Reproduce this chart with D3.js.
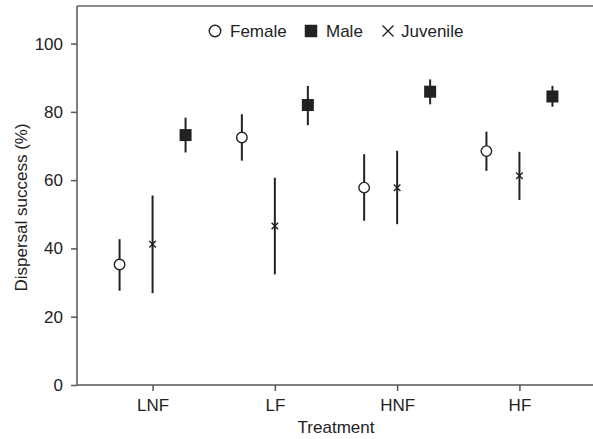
<!DOCTYPE html>
<html>
<head>
<meta charset="utf-8">
<script src="https://cdn.jsdelivr.net/npm/d3@7"></script>
<style>
  body { margin: 0; background: #fff; }
  svg text { font-family: "Liberation Sans", Arial, sans-serif; fill: #222; }
</style>
</head>
<body>
<div id="chart"></div>
<script>
// Data
const treatments = ["LNF", "LF", "HNF", "HF"];
const groups = ["Female", "Juvenile", "Male"];
const femaleMean = [35.3, 72.5, 57.8, 68.5];
const femaleLow = [27.6, 65.7, 48.1, 62.7];
const femaleHigh = [42.7, 79.3, 67.6, 74.2];
const juvenileMean = [41.2, 46.6, 57.8, 61.3];
const juvenileLow = [26.9, 32.4, 47.1, 54.2];
const juvenileHigh = [55.5, 60.7, 68.6, 68.3];
const maleMean = [73.2, 82.0, 85.9, 84.5];
const maleLow = [68.1, 76.1, 82.2, 81.5];
const maleHigh = [78.3, 87.6, 89.5, 87.6];
const yTicks = [0, 20, 40, 60, 80, 100];

const W = 593, H = 439;
const MARGIN = { LEFT: 77, RIGHT: -2, TOP: 6, BOTTOM: 54 };
const innerW = W - MARGIN.LEFT - MARGIN.RIGHT;
const innerH = H - MARGIN.TOP - MARGIN.BOTTOM;
const AXIS_COLOR = "#555";
const MARK_COLOR = "#222";
const FONT = "17px";

const svg = d3.select("#chart").append("svg").attr("width", W).attr("height", H);
const g = svg.append("g").attr("transform", `translate(${MARGIN.LEFT},${MARGIN.TOP})`);

const x = d3.scalePoint().domain(treatments).range([0, innerW]).padding(0.618);
const offset = d3.scalePoint().domain(groups).range([-33, 33]);
const y = d3.scaleLinear().domain([0, 111]).range([innerH, 0]);

// top frame line
g.append("line").attr("x1", 0).attr("x2", innerW).attr("y1", 0).attr("y2", 0)
  .attr("stroke", "#666").attr("stroke-width", 1.5);

// axes
const yAxis = g.append("g").call(d3.axisLeft(y).tickValues(yTicks).tickSize(6).tickPadding(8));
const xAxis = g.append("g").attr("transform", `translate(0,${innerH})`)
  .call(d3.axisBottom(x).tickSize(6).tickPadding(8));
[xAxis, yAxis].forEach(a => {
  a.select(".domain").attr("stroke", AXIS_COLOR).attr("stroke-width", 1.5);
  a.selectAll(".tick line").attr("stroke", AXIS_COLOR).attr("stroke-width", 1.5);
  a.selectAll(".tick text").attr("font-size", FONT).attr("fill", "#222");
});
xAxis.select(".domain").attr("d", `M0,0H${innerW}`);
yAxis.select(".domain").attr("d", `M0,${innerH}V0`);

// axis titles
g.append("text").attr("x", innerW / 2).attr("y", innerH + 48).attr("text-anchor", "middle")
  .attr("font-size", FONT).text("Treatment");
g.append("text").attr("transform", `translate(-50,${(innerH / 2) + 12}) rotate(-90)`)
  .attr("text-anchor", "middle").attr("font-size", FONT).text("Dispersal success (%)");

const series = [
  { key: "Female", mean: femaleMean, low: femaleLow, high: femaleHigh },
  { key: "Juvenile", mean: juvenileMean, low: juvenileLow, high: juvenileHigh },
  { key: "Male", mean: maleMean, low: maleLow, high: maleHigh }
];

function drawMarker(sel, key, size) {
  if (key === "Female") {
    sel.append("circle").attr("r", size / 2).attr("fill", "#fff")
      .attr("stroke", MARK_COLOR).attr("stroke-width", 1.4);
  } else if (key === "Male") {
    sel.append("rect").attr("x", -size / 2).attr("y", -size / 2).attr("width", size).attr("height", size)
      .attr("fill", MARK_COLOR);
  } else {
    const h = size / 2;
    sel.append("path").attr("d", `M${-h},${-h}L${h},${h}M${-h},${h}L${h},${-h}`)
      .attr("stroke", MARK_COLOR).attr("stroke-width", 1.4);
  }
}

const markSize = { Female: 10.5, Male: 12, Juvenile: 6.5 };
series.forEach(s => {
  const sg = g.append("g");
  treatments.forEach((t, i) => {
    const cx = x(t) + offset(s.key);
    sg.append("line").attr("x1", cx).attr("x2", cx)
      .attr("y1", y(s.low[i])).attr("y2", y(s.high[i]))
      .attr("stroke", MARK_COLOR).attr("stroke-width", 2);
    const m = sg.append("g").attr("transform", `translate(${cx},${y(s.mean[i])})`);
    drawMarker(m, s.key, markSize[s.key]);
  });
});

// legend
const legendItems = [
  { key: "Female", x: 215, tx: 230, size: 11.5 },
  { key: "Male", x: 311, tx: 326, size: 12.5 },
  { key: "Juvenile", x: 388, tx: 401, size: 11 }
];
const legend = svg.append("g");
legendItems.forEach(d => {
  const lg = legend.append("g").attr("transform", `translate(${d.x},31)`);
  drawMarker(lg, d.key, d.size);
  legend.append("text").attr("x", d.tx).attr("y", 37)
    .attr("font-size", FONT).text(d.key);
});
</script>
</body>
</html>
